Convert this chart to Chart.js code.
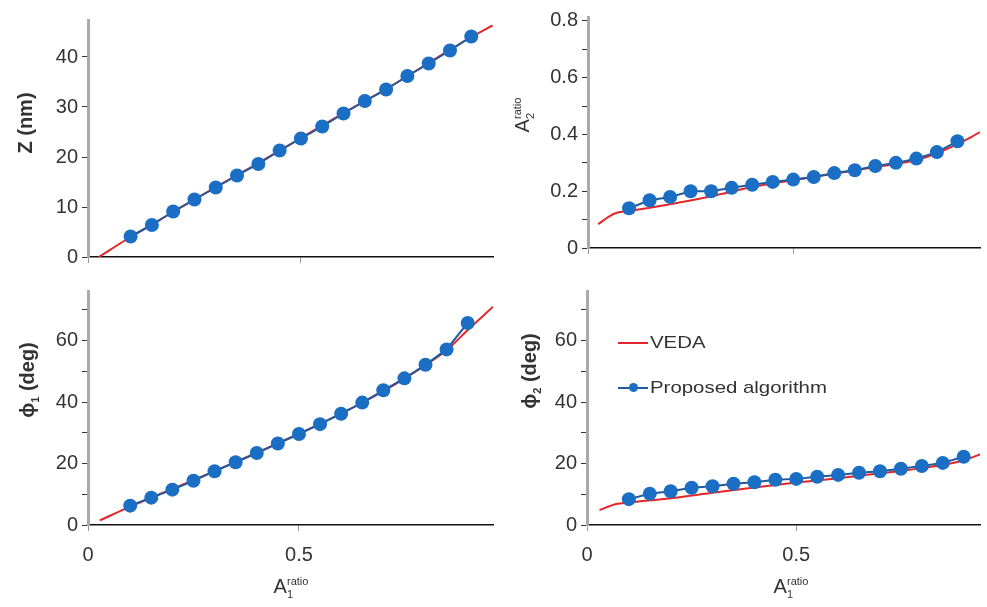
<!DOCTYPE html>
<html lang="en">
<head>
  <meta charset="UTF-8">
  <title>VEDA vs proposed algorithm</title>
  <script src="https://cdn.jsdelivr.net/npm/chart.js"></script>
  <style>
    body { margin: 0; background: #fff; font-family: "Liberation Sans", Arial, sans-serif; }
    #wrap { position: relative; width: 987px; height: 607px; overflow: hidden; }
    canvas { position: absolute; }
    .t { position: absolute; color: #333; font-size: 20px; white-space: nowrap; transform: translate(-50%, -50%); }
    .rot { transform: translate(-50%, -50%) rotate(-90deg); }
    .b { font-weight: bold; }
    .t sub, .t sup { font-size: 11px; }
    .leg { position: absolute; color: #333; font-size: 17px; white-space: nowrap; transform-origin: left center; transform: translateY(-50%) scaleX(1.2); }
    .lline { position: absolute; height: 2px; }
    .ldot { position: absolute; width: 9px; height: 9px; border-radius: 50%; background: #1a6ec4; }
  </style>
</head>
<body>
<div id="wrap">
  <canvas id="zChart"></canvas>
  <canvas id="a2Chart"></canvas>
  <canvas id="phi1Chart"></canvas>
  <canvas id="phi2Chart"></canvas>

  <div class="t rot b" style="left:25px; top:123px;">Z (nm)</div>
  <div class="t rot" style="left:523px; top:115px;">A<sub>2</sub><sup style="margin-left:-6px">ratio</sup></div>
  <div class="t rot b" style="left:28px; top:380px;">ϕ<sub>1</sub> (deg)</div>
  <div class="t rot b" style="left:530px; top:371px;">ϕ<sub>2</sub> (deg)</div>
  <div class="t" style="left:291px; top:587px;">A<sub>1</sub><sup style="margin-left:-6px">ratio</sup></div>
  <div class="t" style="left:791px; top:587px;">A<sub>1</sub><sup style="margin-left:-6px">ratio</sup></div>

  <div class="lline" style="left:618px; top:342px; width:30px; background:#e3262b;"></div>
  <div class="leg" style="left:650px; top:343px;">VEDA</div>
  <div class="lline" style="left:618px; top:387px; width:30px; background:#1e5a9c;"></div>
  <div class="ldot" style="left:629px; top:383px;"></div>
  <div class="leg" style="left:650px; top:388px;">Proposed algorithm</div>
</div>

<script>
  // A1 ratio of the proposed algorithm points
  const aRatio = [0.1, 0.15, 0.2, 0.25, 0.3, 0.35, 0.4, 0.45, 0.5, 0.55, 0.6, 0.65, 0.7, 0.75, 0.8, 0.85, 0.9];

  // proposed algorithm
  const zProp = [4.1, 6.4, 9.1, 11.5, 13.9, 16.3, 18.6, 21.3, 23.7, 26.1, 28.7, 31.2, 33.5, 36.2, 38.7, 41.3, 44.1];
  const a2Prop = [0.14, 0.168, 0.18, 0.2, 0.2, 0.212, 0.223, 0.233, 0.241, 0.25, 0.264, 0.274, 0.289, 0.30, 0.315, 0.338, 0.376];
  const phi1Prop = [6.3, 8.9, 11.5, 14.4, 17.5, 20.4, 23.4, 26.5, 29.6, 32.8, 36.2, 39.8, 43.8, 47.7, 52.1, 57.1, 65.7];
  const phi2Prop = [8.4, 10.2, 11.0, 12.1, 12.6, 13.4, 13.9, 14.7, 15.0, 15.7, 16.3, 17.0, 17.5, 18.3, 19.2, 20.2, 22.2];

  // VEDA curves
  const zVedaX = [0.025, 0.1, 0.2, 0.3, 0.4, 0.5, 0.6, 0.7, 0.8, 0.9, 0.95];
  const zVeda = [0, 4.0, 9.0, 14.0, 18.8, 23.8, 28.8, 33.6, 38.8, 44.0, 46.3];
  const a2VedaX = [0.025, 0.05, 0.07, 0.1, 0.2, 0.3, 0.4, 0.5, 0.6, 0.7, 0.8, 0.85, 0.9, 0.955];
  const a2Veda = [0.084, 0.11, 0.124, 0.13, 0.154, 0.182, 0.215, 0.239, 0.262, 0.285, 0.31, 0.334, 0.366, 0.408];
  const phi1VedaX = [0.028, 0.1, 0.2, 0.3, 0.4, 0.5, 0.6, 0.7, 0.8, 0.85, 0.9, 0.96];
  const phi1Veda = [1.5, 6.0, 11.7, 17.5, 23.5, 29.7, 36.2, 43.5, 52.0, 56.8, 63.4, 71.0];
  const phi2VedaX = [0.03, 0.07, 0.1, 0.2, 0.3, 0.4, 0.5, 0.6, 0.7, 0.8, 0.9, 0.94];
  const phi2Veda = [4.9, 6.8, 7.3, 8.7, 10.5, 12.2, 13.8, 15.2, 16.8, 18.5, 21.0, 23.0];

  // axis ticks
  const xTicks = [0, 0.5];
  const zTicks = [0, 10, 20, 30, 40];
  const a2Ticks = [0, 0.1, 0.2, 0.3, 0.4, 0.5, 0.6, 0.7, 0.8];
  const a2Labels = [0, 0.2, 0.4, 0.6, 0.8];
  const phiTicks = [0, 10, 20, 30, 40, 50, 60, 70];
  const phiLabels = [0, 20, 40, 60];

  Chart.defaults.font.family = '"Liberation Sans", Arial, sans-serif';
  Chart.defaults.font.size = 20;
  Chart.defaults.color = '#333';

  const pairs = (xs, ys) => xs.map((x, i) => ({ x: x, y: ys[i] }));

  const makePanel = (id, pos, o) => {
    const cv = document.getElementById(id);
    cv.style.left = pos.left + 'px';
    cv.style.top = pos.top + 'px';
    cv.width = pos.w;
    cv.height = pos.h;
    new Chart(cv.getContext('2d'), {
      type: 'scatter',
      data: {
        datasets: [{
          label: 'VEDA',
          data: pairs(o.vx, o.vy),
          showLine: true,
          borderColor: '#e3262b',
          borderWidth: 2,
          pointRadius: 0,
          cubicInterpolationMode: 'monotone',
          order: 1
        }, {
          label: 'Proposed algorithm',
          data: pairs(aRatio, o.py),
          showLine: true,
          borderColor: '#1e5a9c',
          borderWidth: 2,
          pointRadius: 7,
          pointBackgroundColor: '#1a6ec4',
          pointBorderColor: '#1a6ec4',
          pointBorderWidth: 0,
          order: 0
        }]
      },
      options: {
        responsive: false,
        animation: false,
        layout: { padding: { top: o.padTop, right: o.padRight, left: 0, bottom: 0 } },
        plugins: { legend: { display: false }, tooltip: { enabled: false } },
        scales: {
          x: {
            type: 'linear',
            min: 0,
            max: o.xMax,
            afterBuildTicks: s => { s.ticks = xTicks.map(v => ({ value: v })); },
            afterFit: s => { s.height = o.xH; },
            ticks: { display: o.xLabels, padding: 12, callback: v => String(v) },
            grid: { drawOnChartArea: false, tickLength: 6, color: '#999' },
            border: { color: '#111', width: 1.5 }
          },
          y: {
            min: 0,
            max: o.yMax,
            afterBuildTicks: s => { s.ticks = o.yTicks.map(v => ({ value: v })); },
            afterFit: s => { s.width = o.yW; },
            ticks: {
              padding: 4,
              callback: v => o.yLabels.some(l => Math.abs(l - v) < 1e-6) ? String(Math.round(v * 10) / 10) : ''
            },
            grid: { drawOnChartArea: false, tickLength: 6, color: '#333' },
            border: { color: '#aaa', width: 3 }
          }
        }
      }
    });
  };

  makePanel('zChart', { left: 0, top: 0, w: 500, h: 275 }, {
    vx: zVedaX, vy: zVeda, py: zProp, xMax: 0.951, yMax: 47.4,
    yTicks: zTicks, yLabels: zTicks, padTop: 20, padRight: 5, yW: 88, xH: 18, xLabels: false
  });
  makePanel('a2Chart', { left: 490, top: 0, w: 497, h: 275 }, {
    vx: a2VedaX, vy: a2Veda, py: a2Prop, xMax: 0.955, yMax: 0.814,
    yTicks: a2Ticks, yLabels: a2Labels, padTop: 17, padRight: 0, yW: 98, xH: 27, xLabels: false
  });
  makePanel('phi1Chart', { left: 0, top: 275, w: 500, h: 332 }, {
    vx: phi1VedaX, vy: phi1Veda, py: phi1Prop, xMax: 0.96, yMax: 76.1,
    yTicks: phiTicks, yLabels: phiLabels, padTop: 8, padRight: 1, yW: 88, xH: 82, xLabels: true
  });
  makePanel('phi2Chart', { left: 490, top: 275, w: 497, h: 332 }, {
    vx: phi2VedaX, vy: phi2Veda, py: phi2Prop, xMax: 0.939, yMax: 76.1,
    yTicks: phiTicks, yLabels: phiLabels, padTop: 8, padRight: 0, yW: 97, xH: 82, xLabels: true
  });
</script>
</body>
</html>
